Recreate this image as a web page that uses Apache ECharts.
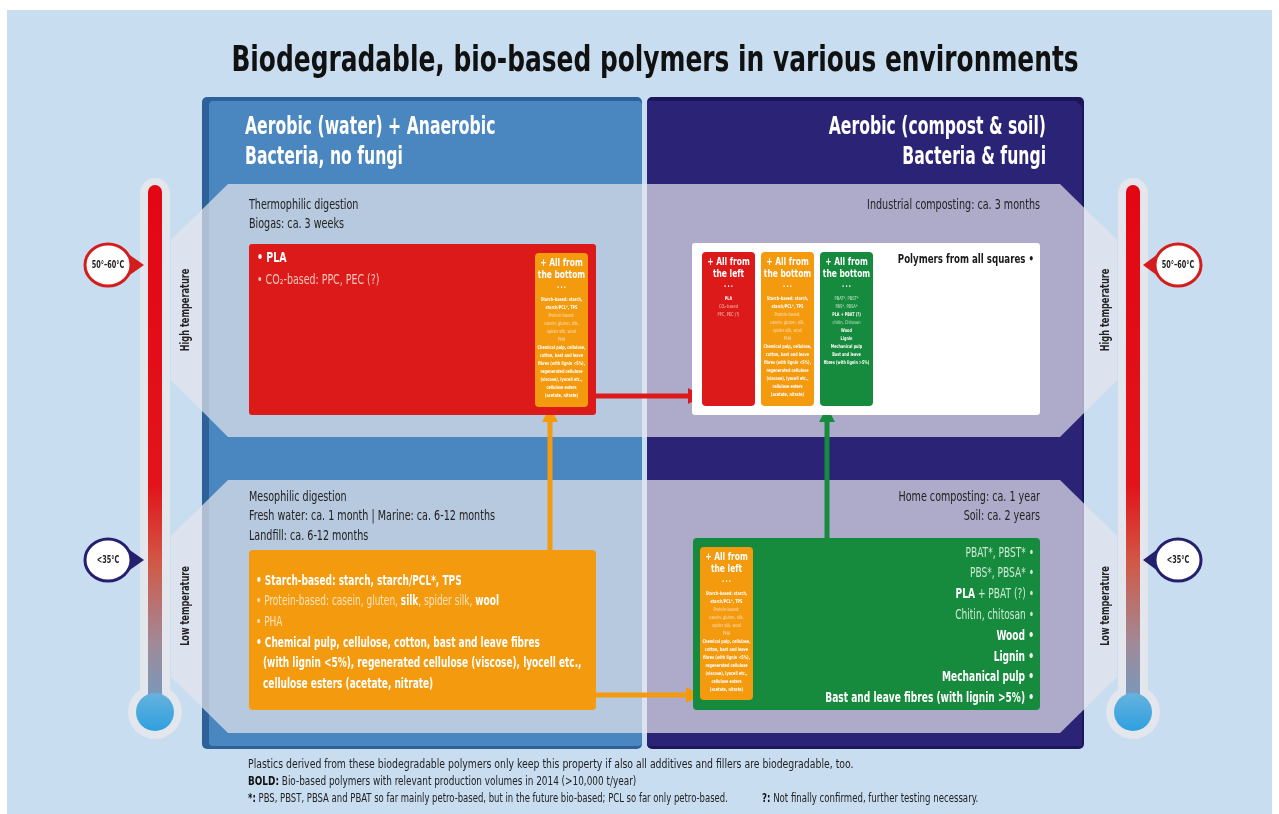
<!DOCTYPE html>
<html><head><meta charset="utf-8">
<script src="https://cdn.jsdelivr.net/npm/echarts@6/dist/echarts.min.js"></script>
<style>html,body{margin:0;padding:0;background:#fff}#c{width:1279px;height:814px}</style>
</head><body><div id="c"></div>
<script>
const FONT = "'Liberation Sans Narrow','DejaVu Sans Condensed','Roboto Condensed','Liberation Sans',sans-serif";

// ---- content ----
const titleText = 'Biodegradable, bio-based polymers in various environments';
const leftHeading = ['Aerobic (water) + Anaerobic', 'Bacteria, no fungi'];
const rightHeading = ['Aerobic (compost & soil)', 'Bacteria & fungi'];
const thermoNotes = ['Thermophilic digestion', 'Biogas: ca. 3 weeks'];
const mesoNotes = ['Mesophilic digestion', 'Fresh water: ca. 1 month | Marine: ca. 6-12 months', 'Landfill: ca. 6-12 months'];
const industrialNotes = ['Industrial composting: ca. 3 months'];
const homeNotes = ['Home composting: ca. 1 year', 'Soil: ca. 2 years'];
const tempBadges = ['50°–60°C', '<35°C'];
const tempBands = ['High temperature', 'Low temperature'];
const redItems = [
  [['• PLA', true]],
  [['• CO₂-based: PPC, PEC (?)', false]]
];
const orangeItems = [
  [['• Starch-based: starch, starch/PCL*, TPS', true]],
  [['• Protein-based: casein, gluten, ', false], ['silk', true], [', spider silk, ', false], ['wool', true]],
  [['• PHA', false]],
  [['• Chemical pulp, cellulose, cotton, bast and leave fibres', true]],
  [['(with lignin <5%), regenerated cellulose (viscose), lyocell etc.,', true]],
  [['cellulose esters (acetate, nitrate)', true]]
];
const greenItems = [
  [['PBAT*, PBST* •', false]],
  [['PBS*, PBSA* •', false]],
  [['PLA', true], [' + PBAT (?) •', false]],
  [['Chitin, chitosan •', false]],
  [['Wood •', true]],
  [['Lignin •', true]],
  [['Mechanical pulp •', true]],
  [['Bast and leave fibres (with lignin >5%) •', true]]
];
const allSquaresLabel = 'Polymers from all squares •';
const fromBottom = ['+ All from', 'the bottom'];
const fromLeft = ['+ All from', 'the left'];
const miniOrange = [
  ['Starch-based: starch,', true], ['starch/PCL*, TPS', true], ['Protein-based:', false],
  ['casein, gluten, silk,', false], ['spider silk, wool', false], ['PHA', false],
  ['Chemical pulp, cellulose,', true], ['cotton, bast and leave', true], ['fibres (with lignin <5%),', true],
  ['regenerated cellulose', true], ['(viscose), lyocell etc.,', true], ['cellulose esters', true],
  ['(acetate, nitrate)', true]
];
const miniRed = [['PLA', true], ['CO₂-based', false], ['PPC, PEC (?)', false]];
const miniGreen = [
  ['PBAT*, PBST*', false], ['PBS*, PBSA*', false], ['PLA + PBAT (?)', true], ['chitin, Chitosan', false],
  ['Wood', true], ['Lignin', true], ['Mechanical pulp', true], ['Bast and leave', true], ['fibres (with lignin >5%)', true]
];
const footLine1 = 'Plastics derived from these biodegradable polymers only keep this property if also all additives and fillers are biodegradable, too.';
const footLine2 = [['BOLD:', true], [' Bio-based polymers with relevant production volumes in 2014 (>10,000 t/year)', false]];
const footLine3 = [['*:', true], [' PBS, PBST, PBSA and PBAT so far mainly petro-based, but in the future bio-based; PCL so far only petro-based.', false]];
const footLine4 = [['?:', true], [' Not finally confirmed, further testing necessary.', false]];

// ---- styling ----
const COL = {
  page: '#c9ddf0', blue: '#4a86bf', blueDark: '#2d6198', navy: '#2b2376', navyDark: '#1c165a',
  band: 'rgba(230,230,236,0.7)', red: '#dc1a1a', orange: '#f39a0e', green: '#168a3d',
  tube: '#e3e6ec', ink: '#222222'
};

const els = [];
function add(e) { e.z = 10 + els.length; els.push(e); return e; }
function rect(x, y, w, h, fill, r) { add({ type: 'rect', shape: { x, y, width: w, height: h, r: r || 0 }, style: { fill } }); }
function poly(points, fill) { add({ type: 'polygon', shape: { points }, style: { fill } }); }
function text(x, y, str, o) {
  o = o || {};
  const align = o.align || 'left';
  const sx = o.sx || (o.bold ? 0.76 : 0.8);
  add({
    type: 'text', x, y, rotation: o.rot || 0, scaleX: sx, scaleY: 1,
    style: {
      text: str, fontFamily: FONT, fontSize: o.size || 13, fontWeight: o.bold ? 'bold' : 'normal',
      fill: o.color || COL.ink, align, textAlign: align, verticalAlign: 'middle', textVerticalAlign: 'middle'
    }
  });
}
function richText(x, y, segs, o) {
  const align = o.align || 'left';
  const str = segs.map(s => '{' + (s[1] ? 'b' : 'l') + '|' + s[0] + '}').join('');
  add({
    type: 'text', x, y, scaleX: o.sx || 0.77, scaleY: 1,
    style: {
      text: str, align, textAlign: align, verticalAlign: 'middle', textVerticalAlign: 'middle',
      rich: {
        b: { fontFamily: FONT, fontSize: o.size, fontWeight: 'bold', fill: o.boldColor },
        l: { fontFamily: FONT, fontSize: o.size, fontWeight: 'normal', fill: o.lightColor }
      }
    }
  });
}
function arrowLine(x1, y1, x2, y2, color) {
  add({ type: 'line', shape: { x1, y1, x2, y2 }, style: { stroke: color, lineWidth: 5 } });
}
function headRight(tx, ty, color) { poly([[tx - 15, ty - 8], [tx, ty], [tx - 15, ty + 8]], color); }
function headUp(tx, ty, color) { poly([[tx - 8, ty + 15], [tx, ty], [tx + 8, ty + 15]], color); }

function miniColumn(x, y, w, h, fill, heading, lines, lightColor) {
  rect(x, y, w, h, fill, 4);
  const cx = x + w / 2;
  text(cx, y + 10, heading[0], { size: 11, bold: true, color: '#fff', align: 'center' });
  text(cx, y + 22, heading[1], { size: 11, bold: true, color: '#fff', align: 'center' });
  text(cx, y + 35, '• • •', { size: 5, bold: true, color: '#fff', align: 'center' });
  lines.forEach((l, i) => text(cx, y + 47 + i * 8, l[0], { size: 5, bold: l[1], color: l[1] ? '#fff' : lightColor, align: 'center' }));
}

function thermometer(cx) {
  rect(cx - 15, 178, 30, 545, COL.tube, 15);
  add({ type: 'circle', shape: { cx, cy: 712, r: 27 }, style: { fill: COL.tube } });
  add({ type: 'rect', shape: { x: cx - 7, y: 185, width: 14, height: 527, r: 7 },
    style: { fill: new echarts.graphic.LinearGradient(0, 0, 0, 1, [
      { offset: 0, color: '#e30613' }, { offset: 0.57, color: '#e2141a' }, { offset: 0.72, color: '#d05a48' },
      { offset: 0.87, color: '#a08a98' }, { offset: 1, color: '#6e9cc6' }]) } });
  add({ type: 'circle', shape: { cx, cy: 712, r: 19 },
    style: { fill: new echarts.graphic.LinearGradient(0, 0, 0, 1, [{ offset: 0, color: '#66b2de' }, { offset: 1, color: '#2fa0e0' }]) } });
}
function badge(cx, cy, tipX, label, color) {
  const dir = tipX > cx ? 1 : -1;
  poly([[cx + dir * 16, cy - 14], [tipX, cy], [cx + dir * 16, cy + 14]], color);
  add({ type: 'ellipse', shape: { cx, cy, rx: 23, ry: 21 }, style: { fill: '#fff', stroke: color, lineWidth: 3 } });
  text(cx, cy, label, { size: 10, bold: true, color: COL.ink, align: 'center', sx: 0.72 });
}

// ---- build ----
rect(7, 10, 1265, 804, COL.page, 0);
text(655, 62, titleText, { size: 35, bold: true, color: '#111', align: 'center', sx: 0.79 });

thermometer(155);
thermometer(1133);

// panels
rect(202, 97, 440, 652, COL.blueDark, 5);
rect(209, 101, 433, 645, COL.blue, 4);
rect(647, 97, 437, 652, COL.navyDark, 5);
poly([[647, 101], [1076, 101], [1082, 107], [1082, 746], [647, 746]], COL.navy);

// temperature bands
poly([[171, 240], [228, 184], [1060, 184], [1117, 240], [1117, 380], [1060, 437], [228, 437], [171, 380]], COL.band);
poly([[171, 536], [228, 480], [1060, 480], [1117, 536], [1117, 677], [1060, 733], [228, 733], [171, 677]], COL.band);

badge(108, 265, 144, tempBadges[0], '#d41c1c');
badge(108, 560, 144, tempBadges[1], '#241f6e');
badge(1178, 265, 1143, tempBadges[0], '#d41c1c');
badge(1178, 560, 1143, tempBadges[1], '#241f6e');

text(186, 310, tempBands[0], { size: 12, bold: true, rot: Math.PI / 2, align: 'center' });
text(186, 606, tempBands[1], { size: 12, bold: true, rot: Math.PI / 2, align: 'center' });
text(1106, 310, tempBands[0], { size: 12, bold: true, rot: Math.PI / 2, align: 'center' });
text(1106, 606, tempBands[1], { size: 12, bold: true, rot: Math.PI / 2, align: 'center' });

// headings
leftHeading.forEach((h, i) => text(245, 128 + i * 30, h, { size: 24, bold: true, color: '#fff', sx: 0.725 }));
rightHeading.forEach((h, i) => text(1046, 128 + i * 30, h, { size: 24, bold: true, color: '#fff', align: 'right', sx: 0.725 }));

thermoNotes.forEach((t, i) => text(249, 205 + i * 19, t, { size: 13.5, color: '#222', sx: 0.79 }));
industrialNotes.forEach((t, i) => text(1040, 205 + i * 19, t, { size: 13.5, color: '#222', align: 'right', sx: 0.79 }));
mesoNotes.forEach((t, i) => text(249, 497 + i * 19.5, t, { size: 13.5, color: '#222', sx: 0.79 }));
homeNotes.forEach((t, i) => text(1040, 497 + i * 19.5, t, { size: 13.5, color: '#222', align: 'right', sx: 0.79 }));

// arrows (behind boxes)
arrowLine(596, 396, 690, 396, COL.red);
headRight(703, 396, COL.red);
arrowLine(550, 552, 550, 420, COL.orange);
headUp(550, 407, COL.orange);
arrowLine(827, 540, 827, 420, COL.green);
headUp(827, 407, COL.green);
arrowLine(594, 695, 688, 695, COL.orange);
headRight(701, 695, COL.orange);

// top-left red box
rect(249, 244, 347, 171, COL.red, 3);
redItems.forEach((segs, i) => richText(257, 258 + i * 22, segs, { size: 13.5, boldColor: '#fff', lightColor: '#f9c7bd', sx: 0.78 }));
miniColumn(535, 253, 53, 154, COL.orange, fromBottom, miniOrange, '#fde3bd');

// top-right white box
rect(692, 243, 348, 172, '#ffffff', 3);
miniColumn(702, 252, 53, 154, COL.red, fromLeft, miniRed, '#f9c7bd');
miniColumn(761, 252, 53, 154, COL.orange, fromBottom, miniOrange, '#fde3bd');
miniColumn(820, 252, 53, 154, COL.green, fromBottom, miniGreen, '#c6e6cf');
text(1034, 260, allSquaresLabel, { size: 13, bold: true, color: '#1a1a1a', align: 'right', sx: 0.74 });

// bottom-left orange box
rect(249, 550, 347, 160, COL.orange, 4);
orangeItems.forEach((segs, i) => richText(i >= 4 ? 263 : 256, 581 + i * 20.7, segs, { size: 13.5, boldColor: '#fff', lightColor: '#fde3bd', sx: 0.74 }));

// bottom-right green box
rect(693, 538, 347, 172, COL.green, 4);
miniColumn(700, 547, 53, 153, COL.orange, fromLeft, miniOrange, '#fde3bd');
greenItems.forEach((segs, i) => richText(1034, 553 + i * 20.8, segs, { size: 14, boldColor: '#fff', lightColor: '#cfe9d6', align: 'right', sx: 0.72 }));

// footnotes
text(248, 765, footLine1, { size: 12.5, color: '#1e1e1e', sx: 0.83 });
richText(248, 782, footLine2, { size: 11.5, boldColor: '#111', lightColor: '#222', sx: 0.86 });
richText(248, 799, footLine3, { size: 11.5, boldColor: '#111', lightColor: '#222', sx: 0.82 });
richText(762, 799, footLine4, { size: 11.5, boldColor: '#111', lightColor: '#222', sx: 0.83 });

const chart = echarts.init(document.getElementById('c'), null, { renderer: 'canvas' });
chart.setOption({ backgroundColor: '#ffffff', animation: false, graphic: { elements: els } });
</script>
</body></html>
